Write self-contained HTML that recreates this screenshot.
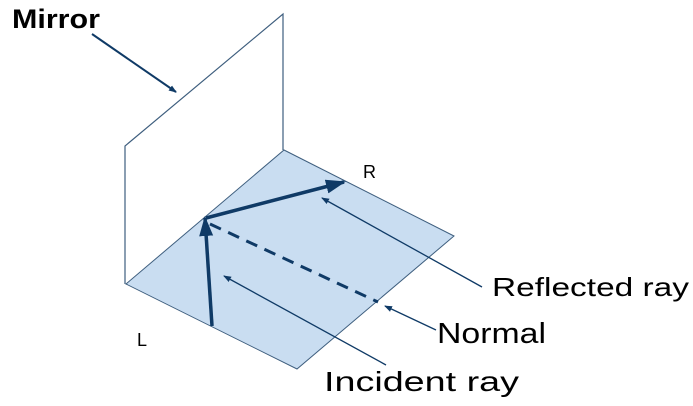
<!DOCTYPE html>
<html><head><style>html,body{margin:0;padding:0;background:#fff;}svg{display:block}</style></head>
<body>
<svg width="693" height="406" viewBox="0 0 693 406" xmlns="http://www.w3.org/2000/svg" font-family="Liberation Sans, Arial, sans-serif">
<defs>
<marker id="a" markerWidth="8" markerHeight="8" refX="7" refY="4" orient="auto" markerUnits="userSpaceOnUse"><path d="M0,1 L8,4 L0,7 z" fill="#0f3a66"/></marker>
<marker id="b" markerWidth="20" markerHeight="16" refX="18" refY="8" orient="auto" markerUnits="userSpaceOnUse"><path d="M0,1 L20,8 L0,15 z" fill="#0f3a66"/></marker>
</defs>
<polygon points="284,150 454,236 297,369 126,284" fill="#c9ddf1" stroke="#3e5e7e" stroke-width="1"/>
<polyline points="125,284 125,146 283,14 283,150" fill="none" stroke="#3e5e7e" stroke-width="1.2"/>
<line x1="92" y1="34" x2="176" y2="92" stroke="#0f3a66" stroke-width="2" marker-end="url(#a)"/>
<line x1="212" y1="326" x2="205" y2="218" stroke="#0f3a66" stroke-width="3.5" marker-end="url(#b)"/>
<line x1="206" y1="218" x2="344" y2="182" stroke="#0f3a66" stroke-width="3.5" marker-end="url(#b)"/>
<line x1="210" y1="224" x2="378" y2="302" stroke="#0f3a66" stroke-width="3" stroke-dasharray="12,8"/>
<line x1="482" y1="287" x2="322" y2="198" stroke="#0f3a66" stroke-width="1.3" marker-end="url(#a)"/>
<line x1="436" y1="330" x2="385" y2="306" stroke="#0f3a66" stroke-width="1.3" marker-end="url(#a)"/>
<line x1="386" y1="365" x2="224" y2="276" stroke="#0f3a66" stroke-width="1.3" marker-end="url(#a)"/>
<text x="12" y="28" font-size="27" font-weight="bold" textLength="88" lengthAdjust="spacingAndGlyphs">Mirror</text>
<text x="363" y="178" font-size="18">R</text>
<text x="137" y="346" font-size="18">L</text>
<text x="492" y="296" font-size="26" textLength="197" lengthAdjust="spacingAndGlyphs">Reflected ray</text>
<text x="437" y="343" font-size="29" textLength="109" lengthAdjust="spacingAndGlyphs">Normal</text>
<text x="324" y="391" font-size="28" textLength="195" lengthAdjust="spacingAndGlyphs">Incident ray</text>
</svg>
</body></html>
